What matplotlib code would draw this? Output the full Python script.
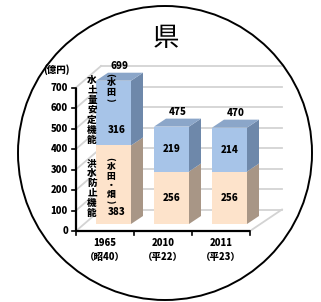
import matplotlib
matplotlib.use("Agg")
import matplotlib.pyplot as plt
from matplotlib.patches import Polygon, Ellipse

# ---- data ----
categories = ["1965\n（昭40）", "2010\n（平22）", "2011\n（平23）"]
flood = [383, 256, 256]        # 洪水防止機能（水田・畑）
water = [316, 219, 214]        # 水土量安定機能（水田）
totals = [699, 475, 470]
yticks = [0, 100, 200, 300, 400, 500, 600, 700]
title = "県"
unit_label = "(億円)"

plt.rcParams['font.family'] = ['Noto Sans CJK JP', 'DejaVu Sans']

W, H = 321, 302
fig = plt.figure(figsize=(W / 100, H / 100), dpi=100)
ax = fig.add_axes([0, 0, 1, 1])
ax.set_axis_off()

# pixel geometry of the front plane
X0, Y0, CW, S = 76.0, 231.0, 58.0, 0.205
ax.set_xlim((0 - X0) / CW, (W - X0) / CW)
ax.set_ylim((Y0 - H) / S, (Y0 - 0) / S)

def px(dx):   # pixel distance -> x data units
    return dx / CW
def py(dy):   # pixel distance -> value units
    return dy / S

# circle frame
fig.patches.append(Ellipse((165 / W, 1 - 153 / H), 294 / W, 294 / H,
                           transform=fig.transFigure, fill=False,
                           edgecolor='black', lw=1.4))
fig.text(166 / W, 1 - 39 / H, title, ha='center', va='center', fontsize=19)

# back walls / gridlines
grid_c = '#d3d3d3'
ncat = len(categories)
bdx_l, bdx_r, bdy = 25, 32, 21.5
for v in yticks:
    ax.plot([0, px(bdx_l)], [v, v + py(bdy)], color=grid_c, lw=1.3, zorder=1)
    ax.plot([px(bdx_l), ncat + px(bdx_r)], [v + py(bdy), v + py(bdy)],
            color=grid_c, lw=1.3, zorder=1)
ax.plot([ncat, ncat + px(bdx_r)], [0, py(bdy)], color=grid_c, lw=1.3, zorder=1)

# axes lines
ax.plot([0, 0], [0, max(yticks)], color='black', lw=1.6, zorder=5,
        solid_capstyle='butt')
ax.plot([0, ncat], [0, 0], color='black', lw=1.6, zorder=5,
        solid_capstyle='butt')
for v in yticks:
    ax.plot([0, -px(4)], [v, v], color='black', lw=1.2, zorder=5)
    ax.text(-px(8), v, str(v), ha='right', va='center', fontsize=6.8,
            fontweight='black')
for i in range(ncat + 1):
    ax.plot([i, i], [0, -py(4)], color='black', lw=1.2, zorder=5)
for i, c in enumerate(categories):
    ax.text(i + 0.5, -py(7), c, ha='center', va='top', fontsize=6.8,
            fontweight='black', linespacing=1.5)
ax.text(-px(19), 700 + py(18), unit_label, ha='center', va='center',
        fontsize=6.8, fontweight='black')

# bars
shift_x, shift_y = px(8.5), py(7)
bw = px(35)
ddx, ddy = px(12), py(8)
front_o, front_b = '#fde3cb', '#a7c4e8'
side_o, side_b = '#a89686', '#6e88aa'
top_b = '#8ba6c9'
xs = [i + 0.5 + shift_x for i in range(ncat)]
ax.bar(xs, flood, width=bw, bottom=shift_y, color=front_o, zorder=3)
ax.bar(xs, water, width=bw, bottom=[shift_y + f for f in flood],
       color=front_b, zorder=3)
for x, f, w in zip(xs, flood, water):
    xr = x + bw / 2
    xl = x - bw / 2
    b0, b1, b2 = shift_y, shift_y + f, shift_y + f + w
    ax.add_patch(Polygon([(xr, b0), (xr + ddx, b0 + ddy), (xr + ddx, b1 + ddy),
                          (xr, b1)], closed=True, color=side_o, zorder=3, lw=0))
    ax.add_patch(Polygon([(xr, b1), (xr + ddx, b1 + ddy), (xr + ddx, b2 + ddy),
                          (xr, b2)], closed=True, color=side_b, zorder=3, lw=0))
    ax.add_patch(Polygon([(xl, b2), (xl + ddx, b2 + ddy), (xr + ddx, b2 + ddy),
                          (xr, b2)], closed=True, color=top_b, zorder=3, lw=0))

# value labels
frac_o = [0.15, 0.5, 0.5]
frac_b = [0.24, 0.5, 0.5]
lab_dx = [px(3), 0, 0]
for i, (x, f, w, t) in enumerate(zip(xs, flood, water, totals)):
    ax.text(x + lab_dx[i], shift_y + f * frac_o[i], str(f), ha='center',
            va='center', fontsize=7, fontweight='black', zorder=6)
    ax.text(x + lab_dx[i], shift_y + f + w * frac_b[i], str(w), ha='center',
            va='center', fontsize=7, fontweight='black', zorder=6)
    ax.text(x + px(6.5), shift_y + t + py(14.5), str(t), ha='center',
            va='center', fontsize=7, fontweight='black', zorder=6)

# vertical series names inside first bar
def vtext(xpix, ys, chars, fs):
    for yy, ch in zip(ys, chars):
        rot = -90 if ch in "()" else 0
        ax.text((xpix - X0) / CW, (Y0 - yy) / S, ch, ha='center', va='center',
                fontsize=fs, fontweight='black', zorder=7, rotation=rot,
                rotation_mode='anchor')

vtext(92, [80 + 10 * k for k in range(7)], "水土量安定機能", 6.9)
vtext(111, [74.5, 82, 92, 99.5], "(水田)", 6.5)
vtext(92, [163 + 10 * k for k in range(6)], "洪水防止機能", 6.9)
vtext(111, [159, 166.5, 176, 185, 194, 201.5], "(水田・畑)", 6.3)

fig.savefig("out.png", dpi=100)
